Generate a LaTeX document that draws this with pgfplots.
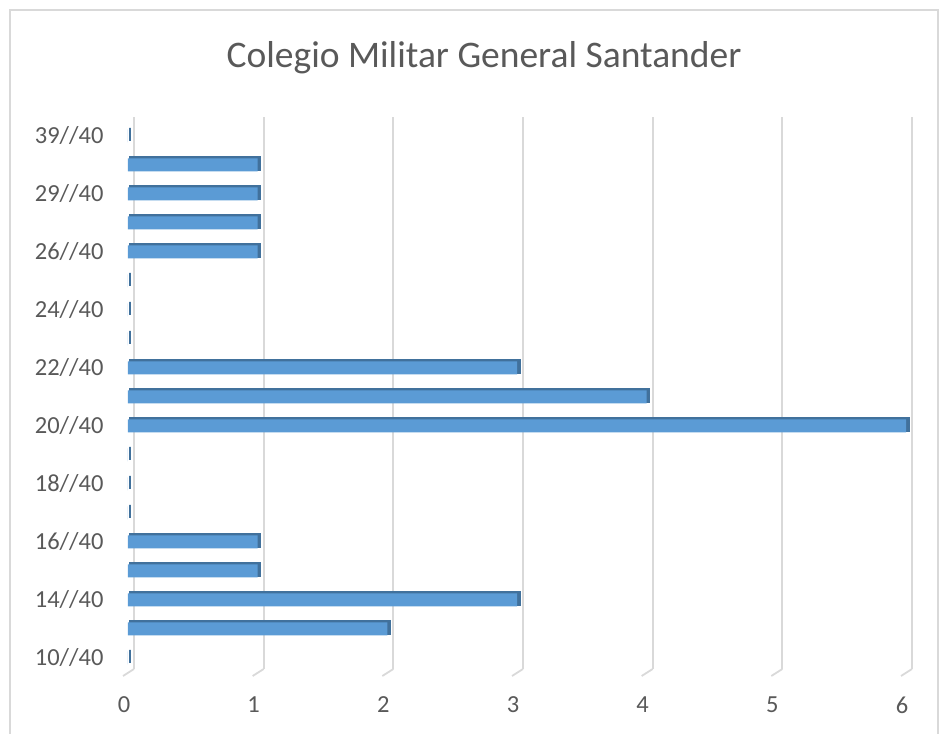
\documentclass[border=0pt]{standalone}
\usepackage{pgfplots}
\pgfplotsset{compat=1.18}
\usepackage{fontspec}
\setmainfont{Carlito}
\definecolor{barblue}{HTML}{5B9BD5}
\definecolor{bardark}{HTML}{41719C}
\definecolor{txtgray}{HTML}{595959}
\definecolor{gridgray}{HTML}{D9D9D9}
\begin{document}
\begin{tikzpicture}[x=1pt,y=1pt]
\path[use as bounding box] (0,0) rectangle (946,734);
\draw[gridgray, line width=1.2pt] (10,-10) rectangle (938,724);
\node[txtgray, font=\fontsize{37.5}{42}\selectfont] at (484,676) {Colegio Militar General Santander};
% back wall gridlines
\begin{axis}[at={(134pt,65pt)}, anchor=south west, scale only axis,
  width=778pt, height=552pt, xmin=0, xmax=6, ymin=0, ymax=1,
  axis line style={draw=none}, ticks=none, clip=false]
  \pgfplotsinvokeforeach{0,1,2,3,4,5,6}{
    \draw[gridgray, line width=1.8pt] (axis cs:#1,0) -- (axis cs:#1,1);
    \draw[gridgray, line width=1.8pt] (axis cs:#1,0) -- ++(-11pt,-7pt);
  }
\end{axis}
\begin{axis}[at={(128pt,61.5pt)}, anchor=south west, scale only axis,
  width=778pt, height=551pt, xmin=0, xmax=6, ymin=-0.5, ymax=18.5,
  axis line style={draw=none}, major tick length=0pt,
  xtick={0,1,2,3,4,5,6},
  ytick={0,2,4,6,8,10,12,14,16,18},
  yticklabels={10//40,14//40,16//40,18//40,20//40,22//40,24//40,26//40,29//40,39//40},
  /pgf/number format/assume math mode=true,
  tick label style={txtgray, font=\fontsize{24.5}{28}\selectfont},
  xticklabel style={yshift=-21pt, xshift=-4pt},
  yticklabel style={xshift=-21pt},
  clip=false]
\addplot[xbar, bar width=13pt, bar shift=1.5pt, xshift=2.5pt, fill=bardark, draw=bardark, line width=2pt]
  coordinates {(0,0) (2,1) (3,2) (1,3) (1,4) (0,5) (0,6) (0,7) (6,8) (4,9) (3,10) (0,11) (0,12) (0,13) (1,14) (1,15) (1,16) (1,17) (0,18)};
\addplot[xbar, bar width=13pt, bar shift=0pt, fill=barblue, draw=none]
  coordinates {(0,0) (2,1) (3,2) (1,3) (1,4) (0,5) (0,6) (0,7) (6,8) (4,9) (3,10) (0,11) (0,12) (0,13) (1,14) (1,15) (1,16) (1,17) (0,18)};
\end{axis}
\end{tikzpicture}
\end{document}
